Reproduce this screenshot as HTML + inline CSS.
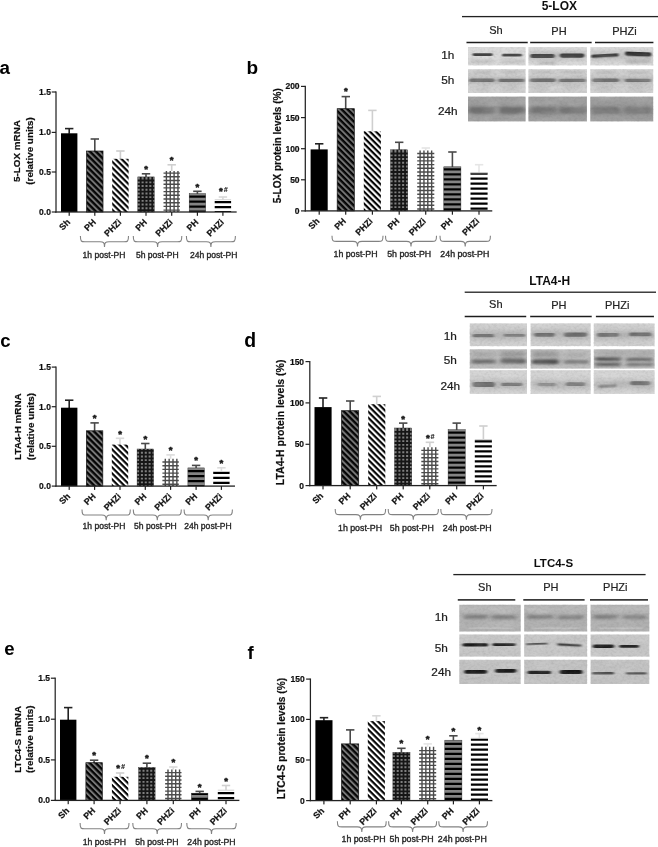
<!DOCTYPE html>
<html lang="en"><head><meta charset="utf-8"><title>Figure: 5-LOX, LTA4-H and LTC4-S expression after partial hepatectomy</title>
<style>
html,body{margin:0;padding:0;background:#ffffff;}
body{width:658px;height:847px;overflow:hidden;}
svg{display:block;font-family:'Liberation Sans', Arial, sans-serif;}
text[font-weight=bold]{stroke:#111;stroke-width:0.2px;stroke-linejoin:round;}
text.ns{stroke:none;}
text.st{stroke:#1a1a1a;stroke-width:0.55px;stroke-linejoin:round;}
</style></head>
<body>
<svg width="658" height="847" viewBox="0 0 658 847">
<rect width="658" height="847" fill="#ffffff"/>
<g filter="url(#soft)">

<defs>
 <pattern id="pDiagG" width="4.24" height="4.24" patternUnits="userSpaceOnUse" patternTransform="rotate(45)">
  <rect width="4.24" height="4.24" fill="#767676"/><rect width="4.24" height="2.3" fill="#060606"/>
 </pattern>
 <pattern id="pDiagW" width="4.24" height="4.24" patternUnits="userSpaceOnUse" patternTransform="rotate(45)">
  <rect width="4.24" height="4.24" fill="#ffffff"/><rect width="4.24" height="2.15" fill="#060606"/>
 </pattern>
 <pattern id="pGridG" width="3" height="3" patternUnits="userSpaceOnUse">
  <rect width="3" height="3" fill="#8a8a8a"/><rect width="3" height="1.5" fill="#111"/><rect width="1.5" height="3" fill="#111"/>
 </pattern>
 <pattern id="pGridW" width="3" height="3" patternUnits="userSpaceOnUse">
  <rect width="3" height="3" fill="#ffffff"/><rect width="3" height="1.1" fill="#3a3a3a"/><rect width="1.1" height="3" fill="#3a3a3a"/>
 </pattern>
 <pattern id="pHorG" width="5" height="5" patternUnits="userSpaceOnUse">
  <rect width="5" height="5" fill="#8a8a8a"/><rect width="5" height="2.6" fill="#0a0a0a"/>
 </pattern>
 <pattern id="pHorW" width="5" height="5" patternUnits="userSpaceOnUse">
  <rect width="5" height="5" fill="#ffffff"/><rect width="5" height="2.3" fill="#0a0a0a"/>
 </pattern>
 <filter id="b0" x="-20%" y="-100%" width="140%" height="300%"><feGaussianBlur stdDeviation="1.3 0.55"/></filter>
 <filter id="b1" x="-20%" y="-100%" width="140%" height="300%"><feGaussianBlur stdDeviation="1.4 0.75"/></filter>
 <filter id="b2" x="-20%" y="-100%" width="140%" height="300%"><feGaussianBlur stdDeviation="2 1.3"/></filter>
 <filter id="b3" x="-20%" y="-100%" width="140%" height="300%"><feGaussianBlur stdDeviation="2.5 2.2"/></filter>
 <filter id="noise" x="0" y="0" width="100%" height="100%" color-interpolation-filters="sRGB">
  <feTurbulence type="fractalNoise" baseFrequency="0.35 0.45" numOctaves="2" seed="7"/>
  <feColorMatrix type="matrix" values="0 0 0 0 0.3  0 0 0 0 0.3  0 0 0 0 0.3  1.4 0 0 0 -0.56"/>
 </filter>
 <filter id="noiseL" x="0" y="0" width="100%" height="100%" color-interpolation-filters="sRGB">
  <feTurbulence type="fractalNoise" baseFrequency="0.06 0.14" numOctaves="2" seed="11"/>
  <feColorMatrix type="matrix" values="0 0 0 0 1  0 0 0 0 1  0 0 0 0 1  1.5 0 0 0 -0.6"/>
 </filter>
 <filter id="soft" x="-5%" y="-5%" width="110%" height="110%"><feGaussianBlur stdDeviation="0.45"/></filter>
</defs>

<rect x="68.4" y="128.6" width="1.6" height="5.2" fill="#242424"/>
<rect x="65.0" y="127.8" width="8.4" height="1.6" fill="#242424"/>
<rect x="61.0" y="133.3" width="16.4" height="78.7" fill="#000"/>
<rect x="68.6" y="212.0" width="1.2" height="3.8" fill="#242424"/>
<text transform="translate(70.8,222.8) rotate(-45)" text-anchor="end" font-size="8.8" font-weight="bold" fill="#111">Sh</text>
<rect x="94.0" y="139.0" width="1.6" height="12.5" fill="#4a4a4a"/>
<rect x="90.6" y="138.2" width="8.4" height="1.6" fill="#4a4a4a"/>
<rect x="86.6" y="151.0" width="16.4" height="61.0" fill="url(#pDiagG)" stroke="#111" stroke-width="0.7"/>
<rect x="94.2" y="212.0" width="1.2" height="3.8" fill="#242424"/>
<text transform="translate(96.4,222.8) rotate(-45)" text-anchor="end" font-size="8.8" font-weight="bold" fill="#111">PH</text>
<rect x="119.6" y="151.0" width="1.6" height="8.3" fill="#cdcdcd"/>
<rect x="116.2" y="150.2" width="8.4" height="1.6" fill="#cdcdcd"/>
<rect x="112.2" y="158.8" width="16.4" height="53.2" fill="url(#pDiagW)"/>
<rect x="119.8" y="212.0" width="1.2" height="3.8" fill="#242424"/>
<text transform="translate(122.0,222.8) rotate(-45)" text-anchor="end" font-size="8.8" font-weight="bold" fill="#111">PHZi</text>
<rect x="145.2" y="173.8" width="1.6" height="3.6" fill="#4a4a4a"/>
<rect x="141.8" y="173.0" width="8.4" height="1.6" fill="#4a4a4a"/>
<rect x="137.8" y="176.9" width="16.4" height="35.1" fill="#808080"/><path d="M139.80,176.9h1.8v35.1h-1.8zM143.65,176.9h1.8v35.1h-1.8zM147.50,176.9h1.8v35.1h-1.8zM151.35,176.9h1.8v35.1h-1.8zM137.8,209.20h16.4v1.8h-16.4zM137.8,205.50h16.4v1.8h-16.4zM137.8,201.80h16.4v1.8h-16.4zM137.8,198.10h16.4v1.8h-16.4zM137.8,194.40h16.4v1.8h-16.4zM137.8,190.70h16.4v1.8h-16.4zM137.8,187.00h16.4v1.8h-16.4zM137.8,183.30h16.4v1.8h-16.4zM137.8,179.60h16.4v1.8h-16.4z" fill="#161616"/><rect x="137.8" y="176.9" width="16.4" height="35.1" fill="none" stroke="#2a2a2a" stroke-width="0.45"/>
<rect x="145.4" y="212.0" width="1.2" height="3.8" fill="#242424"/>
<text transform="translate(147.6,222.8) rotate(-45)" text-anchor="end" font-size="8.8" font-weight="bold" fill="#111">PH</text>
<rect x="170.9" y="164.8" width="1.6" height="6.7" fill="#cfcfcf"/>
<rect x="167.5" y="164.0" width="8.4" height="1.6" fill="#cfcfcf"/>
<rect x="163.5" y="171.0" width="16.4" height="41.0" fill="#ffffff"/><path d="M165.70,171.0h1.4v41.0h-1.4zM169.55,171.0h1.4v41.0h-1.4zM173.40,171.0h1.4v41.0h-1.4zM177.25,171.0h1.4v41.0h-1.4zM163.5,209.40h16.4v1.4h-16.4zM163.5,205.70h16.4v1.4h-16.4zM163.5,202.00h16.4v1.4h-16.4zM163.5,198.30h16.4v1.4h-16.4zM163.5,194.60h16.4v1.4h-16.4zM163.5,190.90h16.4v1.4h-16.4zM163.5,187.20h16.4v1.4h-16.4zM163.5,183.50h16.4v1.4h-16.4zM163.5,179.80h16.4v1.4h-16.4zM163.5,176.10h16.4v1.4h-16.4zM163.5,172.40h16.4v1.4h-16.4z" fill="#4c4c4c"/>
<rect x="171.1" y="212.0" width="1.2" height="3.8" fill="#242424"/>
<text transform="translate(173.3,222.8) rotate(-45)" text-anchor="end" font-size="8.8" font-weight="bold" fill="#111">PHZi</text>
<rect x="196.6" y="191.3" width="1.6" height="2.8" fill="#4a4a4a"/>
<rect x="193.2" y="190.5" width="8.4" height="1.6" fill="#4a4a4a"/>
<rect x="189.2" y="193.6" width="16.4" height="18.4" fill="#848484"/><path d="M189.2,210.48h16.4v1.52h-16.4zM189.2,205.48h16.4v2.15h-16.4zM189.2,200.48h16.4v2.15h-16.4zM189.2,195.48h16.4v2.15h-16.4z" fill="#060606"/><rect x="189.2" y="193.6" width="16.4" height="18.4" fill="none" stroke="#2a2a2a" stroke-width="0.45"/>
<rect x="196.8" y="212.0" width="1.2" height="3.8" fill="#242424"/>
<text transform="translate(199.0,222.8) rotate(-45)" text-anchor="end" font-size="8.8" font-weight="bold" fill="#111">PH</text>
<rect x="222.1" y="197.0" width="1.6" height="3.2" fill="#d8d8d8"/>
<rect x="218.7" y="196.2" width="8.4" height="1.6" fill="#d8d8d8"/>
<rect x="214.7" y="199.7" width="16.4" height="12.3" fill="#ffffff"/><path d="M214.7,211.07h16.4v0.93h-16.4zM214.7,206.07h16.4v2.25h-16.4zM214.7,201.07h16.4v2.25h-16.4z" fill="#060606"/><rect x="214.7" y="199.3" width="16.4" height="0.9" fill="#cfcfcf"/>
<rect x="222.3" y="212.0" width="1.2" height="3.8" fill="#242424"/>
<text transform="translate(224.5,222.8) rotate(-45)" text-anchor="end" font-size="8.8" font-weight="bold" fill="#111">PHZi</text>
<rect x="55.38" y="91.4" width="1.25" height="121.2" fill="#242424"/>
<rect x="55.38" y="211.35" width="181.3" height="1.3" fill="#242424"/>
<rect x="51.7" y="91.4" width="4.3" height="1.2" fill="#242424"/>
<text x="50.9" y="95.0" text-anchor="end" font-size="8.5" font-weight="bold" fill="#111">1.5</text>
<rect x="51.7" y="131.8" width="4.3" height="1.2" fill="#242424"/>
<text x="50.9" y="135.4" text-anchor="end" font-size="8.5" font-weight="bold" fill="#111">1.0</text>
<rect x="51.7" y="171.4" width="4.3" height="1.2" fill="#242424"/>
<text x="50.9" y="175.0" text-anchor="end" font-size="8.5" font-weight="bold" fill="#111">0.5</text>
<rect x="51.7" y="211.4" width="4.3" height="1.2" fill="#242424"/>
<text x="50.9" y="215.0" text-anchor="end" font-size="8.5" font-weight="bold" fill="#111">0.0</text>
<text transform="translate(20.4,151.0) rotate(-90)" text-anchor="middle" font-size="9.9" font-weight="bold" fill="#111">5-LOX mRNA</text>
<text transform="translate(33.0,151.0) rotate(-90)" text-anchor="middle" font-size="9.9" font-weight="bold" fill="#111">(relative units)</text>
<text x="146.0" y="172.0" text-anchor="middle" font-size="9.6" font-weight="bold" class="st" fill="#1a1a1a">*</text>
<text x="171.7" y="163.0" text-anchor="middle" font-size="9.6" font-weight="bold" class="st" fill="#1a1a1a">*</text>
<text x="197.4" y="189.7" text-anchor="middle" font-size="9.6" font-weight="bold" class="st" fill="#1a1a1a">*</text>
<text x="223.3" y="194.1" text-anchor="middle" font-size="9.6" font-weight="bold" class="st" fill="#1a1a1a">*<tspan font-size="7" font-style="italic" stroke-width="0.15" dx="1.0" dy="-2.0">#</tspan></text>
<path d="M80.4,236.1 C80.4,241.7 81.4,241.7 84.9,241.7 L100.0,241.7 C103.5,241.7 104.5,242.7 104.5,246.9 C104.5,242.7 105.5,241.7 109.0,241.7 L124.0,241.7 C127.5,241.7 128.5,241.7 128.5,236.1" fill="none" stroke="#828282" stroke-width="1.1"/>
<text x="104.0" y="257.9" text-anchor="middle" font-size="8.55" fill="#242424" stroke="#242424" stroke-width="0.34">1h post-PH</text>
<path d="M133.3,236.1 C133.3,241.7 134.3,241.7 137.8,241.7 L153.1,241.7 C156.6,241.7 157.6,242.7 157.6,246.9 C157.6,242.7 158.6,241.7 162.1,241.7 L177.3,241.7 C180.8,241.7 181.8,241.7 181.8,236.1" fill="none" stroke="#828282" stroke-width="1.1"/>
<text x="157.3" y="257.9" text-anchor="middle" font-size="8.55" fill="#242424" stroke="#242424" stroke-width="0.34">5h post-PH</text>
<path d="M186.4,236.1 C186.4,241.7 187.4,241.7 190.9,241.7 L206.4,241.7 C209.9,241.7 210.9,242.7 210.9,246.9 C210.9,242.7 211.9,241.7 215.4,241.7 L230.9,241.7 C234.4,241.7 235.4,241.7 235.4,236.1" fill="none" stroke="#828282" stroke-width="1.1"/>
<text x="213.7" y="257.9" text-anchor="middle" font-size="8.55" fill="#242424" stroke="#242424" stroke-width="0.34">24h post-PH</text>
<rect x="318.4" y="143.8" width="1.6" height="6.1" fill="#242424"/>
<rect x="315.0" y="143.0" width="8.4" height="1.6" fill="#242424"/>
<rect x="310.6" y="149.4" width="17.1" height="61.5" fill="#000"/>
<rect x="318.6" y="210.9" width="1.2" height="3.8" fill="#242424"/>
<text transform="translate(320.0,221.7) rotate(-45)" text-anchor="end" font-size="8.8" font-weight="bold" fill="#111">Sh</text>
<rect x="344.9" y="96.6" width="1.6" height="12.6" fill="#4a4a4a"/>
<rect x="341.6" y="95.8" width="8.4" height="1.6" fill="#4a4a4a"/>
<rect x="337.2" y="108.7" width="17.1" height="102.2" fill="url(#pDiagG)" stroke="#111" stroke-width="0.7"/>
<rect x="345.1" y="210.9" width="1.2" height="3.8" fill="#242424"/>
<text transform="translate(346.6,221.7) rotate(-45)" text-anchor="end" font-size="8.8" font-weight="bold" fill="#111">PH</text>
<rect x="371.6" y="110.4" width="1.6" height="21.4" fill="#cfcfcf"/>
<rect x="368.2" y="109.6" width="8.4" height="1.6" fill="#cfcfcf"/>
<rect x="363.8" y="131.3" width="17.1" height="79.6" fill="url(#pDiagW)"/>
<rect x="371.8" y="210.9" width="1.2" height="3.8" fill="#242424"/>
<text transform="translate(373.2,221.7) rotate(-45)" text-anchor="end" font-size="8.8" font-weight="bold" fill="#111">PHZi</text>
<rect x="398.4" y="142.3" width="1.6" height="8.0" fill="#4a4a4a"/>
<rect x="395.0" y="141.5" width="8.4" height="1.6" fill="#4a4a4a"/>
<rect x="390.6" y="149.8" width="17.1" height="61.1" fill="#808080"/><path d="M392.60,149.8h1.8v61.1h-1.8zM396.45,149.8h1.8v61.1h-1.8zM400.30,149.8h1.8v61.1h-1.8zM404.15,149.8h1.8v61.1h-1.8zM390.6,208.10h17.1v1.8h-17.1zM390.6,204.40h17.1v1.8h-17.1zM390.6,200.70h17.1v1.8h-17.1zM390.6,197.00h17.1v1.8h-17.1zM390.6,193.30h17.1v1.8h-17.1zM390.6,189.60h17.1v1.8h-17.1zM390.6,185.90h17.1v1.8h-17.1zM390.6,182.20h17.1v1.8h-17.1zM390.6,178.50h17.1v1.8h-17.1zM390.6,174.80h17.1v1.8h-17.1zM390.6,171.10h17.1v1.8h-17.1zM390.6,167.40h17.1v1.8h-17.1zM390.6,163.70h17.1v1.8h-17.1zM390.6,160.00h17.1v1.8h-17.1zM390.6,156.30h17.1v1.8h-17.1zM390.6,152.60h17.1v1.8h-17.1z" fill="#161616"/><rect x="390.6" y="149.8" width="17.1" height="61.1" fill="none" stroke="#2a2a2a" stroke-width="0.45"/>
<rect x="398.6" y="210.9" width="1.2" height="3.8" fill="#242424"/>
<text transform="translate(400.0,221.7) rotate(-45)" text-anchor="end" font-size="8.8" font-weight="bold" fill="#111">PH</text>
<rect x="424.9" y="148.0" width="1.6" height="2.9" fill="#e4e4e4"/>
<rect x="421.6" y="147.2" width="8.4" height="1.6" fill="#e4e4e4"/>
<rect x="417.2" y="150.4" width="17.1" height="60.5" fill="#ffffff"/><path d="M419.40,150.4h1.4v60.5h-1.4zM423.25,150.4h1.4v60.5h-1.4zM427.10,150.4h1.4v60.5h-1.4zM430.95,150.4h1.4v60.5h-1.4zM417.2,208.30h17.1v1.4h-17.1zM417.2,204.60h17.1v1.4h-17.1zM417.2,200.90h17.1v1.4h-17.1zM417.2,197.20h17.1v1.4h-17.1zM417.2,193.50h17.1v1.4h-17.1zM417.2,189.80h17.1v1.4h-17.1zM417.2,186.10h17.1v1.4h-17.1zM417.2,182.40h17.1v1.4h-17.1zM417.2,178.70h17.1v1.4h-17.1zM417.2,175.00h17.1v1.4h-17.1zM417.2,171.30h17.1v1.4h-17.1zM417.2,167.60h17.1v1.4h-17.1zM417.2,163.90h17.1v1.4h-17.1zM417.2,160.20h17.1v1.4h-17.1zM417.2,156.50h17.1v1.4h-17.1zM417.2,152.80h17.1v1.4h-17.1z" fill="#4c4c4c"/>
<rect x="425.1" y="210.9" width="1.2" height="3.8" fill="#242424"/>
<text transform="translate(426.6,221.7) rotate(-45)" text-anchor="end" font-size="8.8" font-weight="bold" fill="#111">PHZi</text>
<rect x="451.6" y="152.0" width="1.6" height="15.3" fill="#4a4a4a"/>
<rect x="448.2" y="151.2" width="8.4" height="1.6" fill="#4a4a4a"/>
<rect x="443.8" y="166.8" width="17.1" height="44.1" fill="#848484"/><path d="M443.8,208.33h17.1v2.15h-17.1zM443.8,203.33h17.1v2.15h-17.1zM443.8,198.33h17.1v2.15h-17.1zM443.8,193.33h17.1v2.15h-17.1zM443.8,188.33h17.1v2.15h-17.1zM443.8,183.33h17.1v2.15h-17.1zM443.8,178.33h17.1v2.15h-17.1zM443.8,173.33h17.1v2.15h-17.1zM443.8,168.33h17.1v2.15h-17.1z" fill="#060606"/><rect x="443.8" y="166.8" width="17.1" height="44.1" fill="none" stroke="#2a2a2a" stroke-width="0.45"/>
<rect x="451.8" y="210.9" width="1.2" height="3.8" fill="#242424"/>
<text transform="translate(453.2,221.7) rotate(-45)" text-anchor="end" font-size="8.8" font-weight="bold" fill="#111">PH</text>
<rect x="478.2" y="164.7" width="1.6" height="8.6" fill="#e6e6e6"/>
<rect x="474.9" y="163.9" width="8.4" height="1.6" fill="#e6e6e6"/>
<rect x="470.5" y="172.8" width="17.1" height="38.1" fill="#ffffff"/><path d="M470.5,207.47h17.1v2.25h-17.1zM470.5,202.47h17.1v2.25h-17.1zM470.5,197.47h17.1v2.25h-17.1zM470.5,192.47h17.1v2.25h-17.1zM470.5,187.47h17.1v2.25h-17.1zM470.5,182.47h17.1v2.25h-17.1zM470.5,177.47h17.1v2.25h-17.1zM470.5,172.80h17.1v1.92h-17.1z" fill="#060606"/><rect x="470.5" y="172.4" width="17.1" height="0.9" fill="#cfcfcf"/>
<rect x="478.4" y="210.9" width="1.2" height="3.8" fill="#242424"/>
<text transform="translate(479.9,221.7) rotate(-45)" text-anchor="end" font-size="8.8" font-weight="bold" fill="#111">PHZi</text>
<rect x="304.68" y="85.8" width="1.25" height="125.7" fill="#242424"/>
<rect x="304.68" y="210.25" width="187.6" height="1.3" fill="#242424"/>
<rect x="301.0" y="85.8" width="4.3" height="1.2" fill="#242424"/>
<text x="299.6" y="89.4" text-anchor="end" font-size="8.5" font-weight="bold" fill="#111">200</text>
<rect x="301.0" y="117.0" width="4.3" height="1.2" fill="#242424"/>
<text x="299.6" y="120.6" text-anchor="end" font-size="8.5" font-weight="bold" fill="#111">150</text>
<rect x="301.0" y="148.1" width="4.3" height="1.2" fill="#242424"/>
<text x="299.6" y="151.7" text-anchor="end" font-size="8.5" font-weight="bold" fill="#111">100</text>
<rect x="301.0" y="179.2" width="4.3" height="1.2" fill="#242424"/>
<text x="299.6" y="182.8" text-anchor="end" font-size="8.5" font-weight="bold" fill="#111">50</text>
<rect x="301.0" y="210.3" width="4.3" height="1.2" fill="#242424"/>
<text x="299.6" y="213.9" text-anchor="end" font-size="8.5" font-weight="bold" fill="#111">0</text>
<text transform="translate(280.6,145.8) rotate(-90)" text-anchor="middle" font-size="10.0" font-weight="bold" fill="#111">5-LOX protein levels (%)</text>
<text x="345.8" y="94.0" text-anchor="middle" font-size="9.6" font-weight="bold" class="st" fill="#1a1a1a">*</text>
<path d="M332.0,235.8 C332.0,241.4 333.0,241.4 336.5,241.4 L353.0,241.4 C356.5,241.4 357.5,242.4 357.5,246.6 C357.5,242.4 358.5,241.4 362.0,241.4 L378.5,241.4 C382.0,241.4 383.0,241.4 383.0,235.8" fill="none" stroke="#828282" stroke-width="1.1"/>
<text x="355.5" y="256.9" text-anchor="middle" font-size="8.8" fill="#242424" stroke="#242424" stroke-width="0.34">1h post-PH</text>
<path d="M385.5,235.8 C385.5,241.4 386.5,241.4 390.0,241.4 L406.5,241.4 C410.0,241.4 411.0,242.4 411.0,246.6 C411.0,242.4 412.0,241.4 415.5,241.4 L432.0,241.4 C435.5,241.4 436.5,241.4 436.5,235.8" fill="none" stroke="#828282" stroke-width="1.1"/>
<text x="409.2" y="256.9" text-anchor="middle" font-size="8.8" fill="#242424" stroke="#242424" stroke-width="0.34">5h post-PH</text>
<path d="M440.0,235.8 C440.0,241.4 441.0,241.4 444.5,241.4 L460.7,241.4 C464.2,241.4 465.2,242.4 465.2,246.6 C465.2,242.4 466.2,241.4 469.7,241.4 L485.9,241.4 C489.4,241.4 490.4,241.4 490.4,235.8" fill="none" stroke="#828282" stroke-width="1.1"/>
<text x="464.8" y="256.9" text-anchor="middle" font-size="8.8" fill="#242424" stroke="#242424" stroke-width="0.34">24h post-PH</text>
<rect x="68.4" y="400.2" width="1.6" height="8.0" fill="#242424"/>
<rect x="65.0" y="399.4" width="8.4" height="1.6" fill="#242424"/>
<rect x="61.0" y="407.7" width="16.4" height="78.4" fill="#000"/>
<rect x="68.6" y="486.1" width="1.2" height="3.8" fill="#242424"/>
<text transform="translate(70.8,496.9) rotate(-45)" text-anchor="end" font-size="8.8" font-weight="bold" fill="#111">Sh</text>
<rect x="93.8" y="422.9" width="1.6" height="8.4" fill="#4a4a4a"/>
<rect x="90.4" y="422.1" width="8.4" height="1.6" fill="#4a4a4a"/>
<rect x="86.4" y="430.8" width="16.4" height="55.3" fill="url(#pDiagG)" stroke="#111" stroke-width="0.7"/>
<rect x="94.0" y="486.1" width="1.2" height="3.8" fill="#242424"/>
<text transform="translate(96.2,496.9) rotate(-45)" text-anchor="end" font-size="8.8" font-weight="bold" fill="#111">PH</text>
<rect x="119.2" y="438.3" width="1.6" height="6.8" fill="#dadada"/>
<rect x="115.8" y="437.5" width="8.4" height="1.6" fill="#dadada"/>
<rect x="111.8" y="444.6" width="16.4" height="41.5" fill="url(#pDiagW)"/>
<rect x="119.4" y="486.1" width="1.2" height="3.8" fill="#242424"/>
<text transform="translate(121.6,496.9) rotate(-45)" text-anchor="end" font-size="8.8" font-weight="bold" fill="#111">PHZi</text>
<rect x="144.5" y="443.5" width="1.6" height="6.0" fill="#4a4a4a"/>
<rect x="141.1" y="442.7" width="8.4" height="1.6" fill="#4a4a4a"/>
<rect x="137.1" y="449.0" width="16.4" height="37.1" fill="#808080"/><path d="M139.10,449.0h1.8v37.1h-1.8zM142.95,449.0h1.8v37.1h-1.8zM146.80,449.0h1.8v37.1h-1.8zM150.65,449.0h1.8v37.1h-1.8zM137.1,483.30h16.4v1.8h-16.4zM137.1,479.60h16.4v1.8h-16.4zM137.1,475.90h16.4v1.8h-16.4zM137.1,472.20h16.4v1.8h-16.4zM137.1,468.50h16.4v1.8h-16.4zM137.1,464.80h16.4v1.8h-16.4zM137.1,461.10h16.4v1.8h-16.4zM137.1,457.40h16.4v1.8h-16.4zM137.1,453.70h16.4v1.8h-16.4zM137.1,450.00h16.4v1.8h-16.4z" fill="#161616"/><rect x="137.1" y="449.0" width="16.4" height="37.1" fill="none" stroke="#2a2a2a" stroke-width="0.45"/>
<rect x="144.7" y="486.1" width="1.2" height="3.8" fill="#242424"/>
<text transform="translate(146.9,496.9) rotate(-45)" text-anchor="end" font-size="8.8" font-weight="bold" fill="#111">PH</text>
<rect x="169.8" y="454.9" width="1.6" height="4.4" fill="#dcdcdc"/>
<rect x="166.4" y="454.1" width="8.4" height="1.6" fill="#dcdcdc"/>
<rect x="162.4" y="458.8" width="16.4" height="27.3" fill="#ffffff"/><path d="M164.60,458.8h1.4v27.3h-1.4zM168.45,458.8h1.4v27.3h-1.4zM172.30,458.8h1.4v27.3h-1.4zM176.15,458.8h1.4v27.3h-1.4zM162.4,483.50h16.4v1.4h-16.4zM162.4,479.80h16.4v1.4h-16.4zM162.4,476.10h16.4v1.4h-16.4zM162.4,472.40h16.4v1.4h-16.4zM162.4,468.70h16.4v1.4h-16.4zM162.4,465.00h16.4v1.4h-16.4zM162.4,461.30h16.4v1.4h-16.4z" fill="#4c4c4c"/>
<rect x="170.0" y="486.1" width="1.2" height="3.8" fill="#242424"/>
<text transform="translate(172.2,496.9) rotate(-45)" text-anchor="end" font-size="8.8" font-weight="bold" fill="#111">PHZi</text>
<rect x="195.3" y="465.4" width="1.6" height="3.0" fill="#4a4a4a"/>
<rect x="191.9" y="464.6" width="8.4" height="1.6" fill="#4a4a4a"/>
<rect x="187.9" y="467.9" width="16.4" height="18.2" fill="#848484"/><path d="M187.9,485.03h16.4v1.07h-16.4zM187.9,480.03h16.4v2.15h-16.4zM187.9,475.03h16.4v2.15h-16.4zM187.9,470.03h16.4v2.15h-16.4z" fill="#060606"/><rect x="187.9" y="467.9" width="16.4" height="18.2" fill="none" stroke="#2a2a2a" stroke-width="0.45"/>
<rect x="195.5" y="486.1" width="1.2" height="3.8" fill="#242424"/>
<text transform="translate(197.7,496.9) rotate(-45)" text-anchor="end" font-size="8.8" font-weight="bold" fill="#111">PH</text>
<rect x="220.6" y="467.8" width="1.6" height="4.2" fill="#dcdcdc"/>
<rect x="217.2" y="467.0" width="8.4" height="1.6" fill="#dcdcdc"/>
<rect x="213.2" y="471.5" width="16.4" height="14.6" fill="#ffffff"/><path d="M213.2,481.78h16.4v2.25h-16.4zM213.2,476.78h16.4v2.25h-16.4zM213.2,471.78h16.4v2.25h-16.4z" fill="#060606"/><rect x="213.2" y="471.1" width="16.4" height="0.9" fill="#cfcfcf"/>
<rect x="220.8" y="486.1" width="1.2" height="3.8" fill="#242424"/>
<text transform="translate(223.0,496.9) rotate(-45)" text-anchor="end" font-size="8.8" font-weight="bold" fill="#111">PHZi</text>
<rect x="55.38" y="366.5" width="1.25" height="120.2" fill="#242424"/>
<rect x="55.38" y="485.45" width="179.6" height="1.3" fill="#242424"/>
<rect x="51.7" y="366.5" width="4.3" height="1.2" fill="#242424"/>
<text x="50.9" y="370.1" text-anchor="end" font-size="8.5" font-weight="bold" fill="#111">1.5</text>
<rect x="51.7" y="406.1" width="4.3" height="1.2" fill="#242424"/>
<text x="50.9" y="409.7" text-anchor="end" font-size="8.5" font-weight="bold" fill="#111">1.0</text>
<rect x="51.7" y="445.7" width="4.3" height="1.2" fill="#242424"/>
<text x="50.9" y="449.3" text-anchor="end" font-size="8.5" font-weight="bold" fill="#111">0.5</text>
<rect x="51.7" y="485.5" width="4.3" height="1.2" fill="#242424"/>
<text x="50.9" y="489.1" text-anchor="end" font-size="8.5" font-weight="bold" fill="#111">0.0</text>
<text transform="translate(20.9,426.6) rotate(-90)" text-anchor="middle" font-size="9.9" font-weight="bold" fill="#111">LTA4-H mRNA</text>
<text transform="translate(33.5,426.6) rotate(-90)" text-anchor="middle" font-size="9.9" font-weight="bold" fill="#111">(relative units)</text>
<text x="94.6" y="421.0" text-anchor="middle" font-size="9.6" font-weight="bold" class="st" fill="#1a1a1a">*</text>
<text x="120.0" y="436.7" text-anchor="middle" font-size="9.6" font-weight="bold" class="st" fill="#1a1a1a">*</text>
<text x="145.3" y="442.3" text-anchor="middle" font-size="9.6" font-weight="bold" class="st" fill="#1a1a1a">*</text>
<text x="170.6" y="453.0" text-anchor="middle" font-size="9.6" font-weight="bold" class="st" fill="#1a1a1a">*</text>
<text x="196.1" y="463.2" text-anchor="middle" font-size="9.6" font-weight="bold" class="st" fill="#1a1a1a">*</text>
<text x="221.4" y="466.2" text-anchor="middle" font-size="9.6" font-weight="bold" class="st" fill="#1a1a1a">*</text>
<path d="M82.0,509.4 C82.0,515.0 83.0,515.0 86.5,515.0 L101.7,515.0 C105.2,515.0 106.2,516.0 106.2,520.2 C106.2,516.0 107.2,515.0 110.7,515.0 L125.8,515.0 C129.3,515.0 130.3,515.0 130.3,509.4" fill="none" stroke="#828282" stroke-width="1.1"/>
<text x="104.0" y="528.5" text-anchor="middle" font-size="8.55" fill="#242424" stroke="#242424" stroke-width="0.34">1h post-PH</text>
<path d="M133.3,509.4 C133.3,515.0 134.3,515.0 137.8,515.0 L152.8,515.0 C156.3,515.0 157.3,516.0 157.3,520.2 C157.3,516.0 158.3,515.0 161.8,515.0 L176.8,515.0 C180.3,515.0 181.3,515.0 181.3,509.4" fill="none" stroke="#828282" stroke-width="1.1"/>
<text x="155.4" y="528.5" text-anchor="middle" font-size="8.55" fill="#242424" stroke="#242424" stroke-width="0.34">5h post-PH</text>
<path d="M184.1,509.4 C184.1,515.0 185.1,515.0 188.6,515.0 L203.8,515.0 C207.2,515.0 208.2,516.0 208.2,520.2 C208.2,516.0 209.2,515.0 212.8,515.0 L227.9,515.0 C231.4,515.0 232.4,515.0 232.4,509.4" fill="none" stroke="#828282" stroke-width="1.1"/>
<text x="208.0" y="528.5" text-anchor="middle" font-size="8.55" fill="#242424" stroke="#242424" stroke-width="0.34">24h post-PH</text>
<rect x="322.2" y="398.0" width="1.6" height="9.6" fill="#242424"/>
<rect x="318.9" y="397.2" width="8.4" height="1.6" fill="#242424"/>
<rect x="314.5" y="407.1" width="17.1" height="78.5" fill="#000"/>
<rect x="322.4" y="485.6" width="1.2" height="3.8" fill="#242424"/>
<text transform="translate(323.9,496.4) rotate(-45)" text-anchor="end" font-size="8.8" font-weight="bold" fill="#111">Sh</text>
<rect x="349.4" y="401.0" width="1.6" height="10.2" fill="#4a4a4a"/>
<rect x="346.0" y="400.2" width="8.4" height="1.6" fill="#4a4a4a"/>
<rect x="341.6" y="410.7" width="17.1" height="74.9" fill="url(#pDiagG)" stroke="#111" stroke-width="0.7"/>
<rect x="349.6" y="485.6" width="1.2" height="3.8" fill="#242424"/>
<text transform="translate(351.0,496.4) rotate(-45)" text-anchor="end" font-size="8.8" font-weight="bold" fill="#111">PH</text>
<rect x="375.9" y="396.4" width="1.6" height="8.3" fill="#d0d0d0"/>
<rect x="372.6" y="395.6" width="8.4" height="1.6" fill="#d0d0d0"/>
<rect x="368.2" y="404.2" width="17.1" height="81.4" fill="url(#pDiagW)"/>
<rect x="376.1" y="485.6" width="1.2" height="3.8" fill="#242424"/>
<text transform="translate(377.6,496.4) rotate(-45)" text-anchor="end" font-size="8.8" font-weight="bold" fill="#111">PHZi</text>
<rect x="402.4" y="423.1" width="1.6" height="5.4" fill="#4a4a4a"/>
<rect x="399.0" y="422.3" width="8.4" height="1.6" fill="#4a4a4a"/>
<rect x="394.6" y="428.0" width="17.1" height="57.6" fill="#808080"/><path d="M396.60,428.0h1.8v57.6h-1.8zM400.45,428.0h1.8v57.6h-1.8zM404.30,428.0h1.8v57.6h-1.8zM408.15,428.0h1.8v57.6h-1.8zM394.6,482.80h17.1v1.8h-17.1zM394.6,479.10h17.1v1.8h-17.1zM394.6,475.40h17.1v1.8h-17.1zM394.6,471.70h17.1v1.8h-17.1zM394.6,468.00h17.1v1.8h-17.1zM394.6,464.30h17.1v1.8h-17.1zM394.6,460.60h17.1v1.8h-17.1zM394.6,456.90h17.1v1.8h-17.1zM394.6,453.20h17.1v1.8h-17.1zM394.6,449.50h17.1v1.8h-17.1zM394.6,445.80h17.1v1.8h-17.1zM394.6,442.10h17.1v1.8h-17.1zM394.6,438.40h17.1v1.8h-17.1zM394.6,434.70h17.1v1.8h-17.1zM394.6,431.00h17.1v1.8h-17.1z" fill="#161616"/><rect x="394.6" y="428.0" width="17.1" height="57.6" fill="none" stroke="#2a2a2a" stroke-width="0.45"/>
<rect x="402.6" y="485.6" width="1.2" height="3.8" fill="#242424"/>
<text transform="translate(404.0,496.4) rotate(-45)" text-anchor="end" font-size="8.8" font-weight="bold" fill="#111">PH</text>
<rect x="429.1" y="442.3" width="1.6" height="5.4" fill="#d0d0d0"/>
<rect x="425.7" y="441.5" width="8.4" height="1.6" fill="#d0d0d0"/>
<rect x="421.3" y="447.2" width="17.1" height="38.4" fill="#ffffff"/><path d="M423.50,447.2h1.4v38.4h-1.4zM427.35,447.2h1.4v38.4h-1.4zM431.20,447.2h1.4v38.4h-1.4zM435.05,447.2h1.4v38.4h-1.4zM421.3,483.00h17.1v1.4h-17.1zM421.3,479.30h17.1v1.4h-17.1zM421.3,475.60h17.1v1.4h-17.1zM421.3,471.90h17.1v1.4h-17.1zM421.3,468.20h17.1v1.4h-17.1zM421.3,464.50h17.1v1.4h-17.1zM421.3,460.80h17.1v1.4h-17.1zM421.3,457.10h17.1v1.4h-17.1zM421.3,453.40h17.1v1.4h-17.1zM421.3,449.70h17.1v1.4h-17.1z" fill="#4c4c4c"/>
<rect x="429.2" y="485.6" width="1.2" height="3.8" fill="#242424"/>
<text transform="translate(430.7,496.4) rotate(-45)" text-anchor="end" font-size="8.8" font-weight="bold" fill="#111">PHZi</text>
<rect x="455.9" y="423.1" width="1.6" height="7.1" fill="#4a4a4a"/>
<rect x="452.5" y="422.3" width="8.4" height="1.6" fill="#4a4a4a"/>
<rect x="448.1" y="429.7" width="17.1" height="55.9" fill="#848484"/><path d="M448.1,481.53h17.1v2.15h-17.1zM448.1,476.53h17.1v2.15h-17.1zM448.1,471.53h17.1v2.15h-17.1zM448.1,466.53h17.1v2.15h-17.1zM448.1,461.53h17.1v2.15h-17.1zM448.1,456.53h17.1v2.15h-17.1zM448.1,451.53h17.1v2.15h-17.1zM448.1,446.53h17.1v2.15h-17.1zM448.1,441.53h17.1v2.15h-17.1zM448.1,436.53h17.1v2.15h-17.1zM448.1,431.53h17.1v2.15h-17.1z" fill="#060606"/><rect x="448.1" y="429.7" width="17.1" height="55.9" fill="none" stroke="#2a2a2a" stroke-width="0.45"/>
<rect x="456.1" y="485.6" width="1.2" height="3.8" fill="#242424"/>
<text transform="translate(457.5,496.4) rotate(-45)" text-anchor="end" font-size="8.8" font-weight="bold" fill="#111">PH</text>
<rect x="482.6" y="426.0" width="1.6" height="13.9" fill="#cfcfcf"/>
<rect x="479.2" y="425.2" width="8.4" height="1.6" fill="#cfcfcf"/>
<rect x="474.8" y="439.4" width="17.1" height="46.2" fill="#ffffff"/><path d="M474.8,480.18h17.1v2.25h-17.1zM474.8,475.18h17.1v2.25h-17.1zM474.8,470.18h17.1v2.25h-17.1zM474.8,465.18h17.1v2.25h-17.1zM474.8,460.18h17.1v2.25h-17.1zM474.8,455.18h17.1v2.25h-17.1zM474.8,450.18h17.1v2.25h-17.1zM474.8,445.18h17.1v2.25h-17.1zM474.8,440.18h17.1v2.25h-17.1z" fill="#060606"/><rect x="474.8" y="439.0" width="17.1" height="0.9" fill="#cfcfcf"/>
<rect x="482.8" y="485.6" width="1.2" height="3.8" fill="#242424"/>
<text transform="translate(484.2,496.4) rotate(-45)" text-anchor="end" font-size="8.8" font-weight="bold" fill="#111">PHZi</text>
<rect x="309.18" y="361.0" width="1.25" height="125.2" fill="#242424"/>
<rect x="309.18" y="484.95" width="187.5" height="1.3" fill="#242424"/>
<rect x="305.5" y="361.0" width="4.3" height="1.2" fill="#242424"/>
<text x="304.1" y="364.6" text-anchor="end" font-size="8.5" font-weight="bold" fill="#111">150</text>
<rect x="305.5" y="402.3" width="4.3" height="1.2" fill="#242424"/>
<text x="304.1" y="405.9" text-anchor="end" font-size="8.5" font-weight="bold" fill="#111">100</text>
<rect x="305.5" y="443.7" width="4.3" height="1.2" fill="#242424"/>
<text x="304.1" y="447.3" text-anchor="end" font-size="8.5" font-weight="bold" fill="#111">50</text>
<rect x="305.5" y="485.0" width="4.3" height="1.2" fill="#242424"/>
<text x="304.1" y="488.6" text-anchor="end" font-size="8.5" font-weight="bold" fill="#111">0</text>
<text transform="translate(284.1,422.4) rotate(-90)" text-anchor="middle" font-size="10.5" font-weight="bold" fill="#111">LTA4-H protein levels (%)</text>
<text x="403.2" y="422.0" text-anchor="middle" font-size="9.6" font-weight="bold" class="st" fill="#1a1a1a">*</text>
<text x="430.2" y="441.0" text-anchor="middle" font-size="9.6" font-weight="bold" class="st" fill="#1a1a1a">*<tspan font-size="7" font-style="italic" stroke-width="0.15" dx="1.0" dy="-2.0">#</tspan></text>
<path d="M335.2,509.0 C335.2,514.6 336.2,514.6 339.7,514.6 L355.9,514.6 C359.4,514.6 360.4,515.6 360.4,519.8 C360.4,515.6 361.4,514.6 364.9,514.6 L381.1,514.6 C384.6,514.6 385.6,514.6 385.6,509.0" fill="none" stroke="#828282" stroke-width="1.1"/>
<text x="360.0" y="531.0" text-anchor="middle" font-size="8.8" fill="#242424" stroke="#242424" stroke-width="0.34">1h post-PH</text>
<path d="M388.2,509.0 C388.2,514.6 389.2,514.6 392.7,514.6 L408.8,514.6 C412.3,514.6 413.3,515.6 413.3,519.8 C413.3,515.6 414.3,514.6 417.8,514.6 L433.9,514.6 C437.4,514.6 438.4,514.6 438.4,509.0" fill="none" stroke="#828282" stroke-width="1.1"/>
<text x="411.8" y="531.0" text-anchor="middle" font-size="8.8" fill="#242424" stroke="#242424" stroke-width="0.34">5h post-PH</text>
<path d="M440.8,509.0 C440.8,514.6 441.8,514.6 445.3,514.6 L461.9,514.6 C465.4,514.6 466.4,515.6 466.4,519.8 C466.4,515.6 467.4,514.6 470.9,514.6 L487.5,514.6 C491.0,514.6 492.0,514.6 492.0,509.0" fill="none" stroke="#828282" stroke-width="1.1"/>
<text x="467.2" y="531.0" text-anchor="middle" font-size="8.8" fill="#242424" stroke="#242424" stroke-width="0.34">24h post-PH</text>
<rect x="67.4" y="707.6" width="1.6" height="12.6" fill="#242424"/>
<rect x="64.0" y="706.8" width="8.4" height="1.6" fill="#242424"/>
<rect x="60.0" y="719.7" width="16.4" height="80.7" fill="#000"/>
<rect x="67.6" y="800.4" width="1.2" height="3.8" fill="#242424"/>
<text transform="translate(69.8,811.2) rotate(-45)" text-anchor="end" font-size="8.8" font-weight="bold" fill="#111">Sh</text>
<rect x="93.3" y="760.2" width="1.6" height="3.0" fill="#4a4a4a"/>
<rect x="89.9" y="759.4" width="8.4" height="1.6" fill="#4a4a4a"/>
<rect x="85.9" y="762.7" width="16.4" height="37.7" fill="url(#pDiagG)" stroke="#111" stroke-width="0.7"/>
<rect x="93.5" y="800.4" width="1.2" height="3.8" fill="#242424"/>
<text transform="translate(95.7,811.2) rotate(-45)" text-anchor="end" font-size="8.8" font-weight="bold" fill="#111">PH</text>
<rect x="119.3" y="773.0" width="1.6" height="4.3" fill="#cfcfcf"/>
<rect x="115.9" y="772.2" width="8.4" height="1.6" fill="#cfcfcf"/>
<rect x="111.9" y="776.8" width="16.4" height="23.6" fill="url(#pDiagW)"/>
<rect x="119.5" y="800.4" width="1.2" height="3.8" fill="#242424"/>
<text transform="translate(121.7,811.2) rotate(-45)" text-anchor="end" font-size="8.8" font-weight="bold" fill="#111">PHZi</text>
<rect x="146.1" y="763.2" width="1.6" height="4.9" fill="#4a4a4a"/>
<rect x="142.7" y="762.4" width="8.4" height="1.6" fill="#4a4a4a"/>
<rect x="138.7" y="767.6" width="16.4" height="32.8" fill="#808080"/><path d="M140.70,767.6h1.8v32.8h-1.8zM144.55,767.6h1.8v32.8h-1.8zM148.40,767.6h1.8v32.8h-1.8zM152.25,767.6h1.8v32.8h-1.8zM138.7,797.60h16.4v1.8h-16.4zM138.7,793.90h16.4v1.8h-16.4zM138.7,790.20h16.4v1.8h-16.4zM138.7,786.50h16.4v1.8h-16.4zM138.7,782.80h16.4v1.8h-16.4zM138.7,779.10h16.4v1.8h-16.4zM138.7,775.40h16.4v1.8h-16.4zM138.7,771.70h16.4v1.8h-16.4zM138.7,768.00h16.4v1.8h-16.4z" fill="#161616"/><rect x="138.7" y="767.6" width="16.4" height="32.8" fill="none" stroke="#2a2a2a" stroke-width="0.45"/>
<rect x="146.3" y="800.4" width="1.2" height="3.8" fill="#242424"/>
<text transform="translate(148.5,811.2) rotate(-45)" text-anchor="end" font-size="8.8" font-weight="bold" fill="#111">PH</text>
<rect x="172.5" y="767.0" width="1.6" height="3.1" fill="#dadada"/>
<rect x="169.1" y="766.2" width="8.4" height="1.6" fill="#dadada"/>
<rect x="165.1" y="769.6" width="16.4" height="30.8" fill="#ffffff"/><path d="M167.30,769.6h1.4v30.8h-1.4zM171.15,769.6h1.4v30.8h-1.4zM175.00,769.6h1.4v30.8h-1.4zM178.85,769.6h1.4v30.8h-1.4zM165.1,797.80h16.4v1.4h-16.4zM165.1,794.10h16.4v1.4h-16.4zM165.1,790.40h16.4v1.4h-16.4zM165.1,786.70h16.4v1.4h-16.4zM165.1,783.00h16.4v1.4h-16.4zM165.1,779.30h16.4v1.4h-16.4zM165.1,775.60h16.4v1.4h-16.4zM165.1,771.90h16.4v1.4h-16.4z" fill="#4c4c4c"/>
<rect x="172.7" y="800.4" width="1.2" height="3.8" fill="#242424"/>
<text transform="translate(174.9,811.2) rotate(-45)" text-anchor="end" font-size="8.8" font-weight="bold" fill="#111">PHZi</text>
<rect x="198.9" y="791.4" width="1.6" height="2.3" fill="#4a4a4a"/>
<rect x="195.5" y="790.6" width="8.4" height="1.6" fill="#4a4a4a"/>
<rect x="191.5" y="793.2" width="16.4" height="7.2" fill="#848484"/><path d="M191.5,797.82h16.4v2.15h-16.4zM191.5,793.20h16.4v1.77h-16.4z" fill="#060606"/><rect x="191.5" y="793.2" width="16.4" height="7.2" fill="none" stroke="#2a2a2a" stroke-width="0.45"/>
<rect x="199.1" y="800.4" width="1.2" height="3.8" fill="#242424"/>
<text transform="translate(201.3,811.2) rotate(-45)" text-anchor="end" font-size="8.8" font-weight="bold" fill="#111">PH</text>
<rect x="225.2" y="785.5" width="1.6" height="5.1" fill="#d0d0d0"/>
<rect x="221.8" y="784.7" width="8.4" height="1.6" fill="#d0d0d0"/>
<rect x="217.8" y="790.1" width="16.4" height="10.3" fill="#ffffff"/><path d="M217.8,796.98h16.4v2.25h-16.4zM217.8,791.98h16.4v2.25h-16.4z" fill="#060606"/><rect x="217.8" y="789.7" width="16.4" height="0.9" fill="#cfcfcf"/>
<rect x="225.4" y="800.4" width="1.2" height="3.8" fill="#242424"/>
<text transform="translate(227.6,811.2) rotate(-45)" text-anchor="end" font-size="8.8" font-weight="bold" fill="#111">PHZi</text>
<rect x="54.58" y="677.6" width="1.25" height="123.4" fill="#242424"/>
<rect x="54.58" y="799.75" width="184.8" height="1.3" fill="#242424"/>
<rect x="50.9" y="677.6" width="4.3" height="1.2" fill="#242424"/>
<text x="50.1" y="681.2" text-anchor="end" font-size="8.5" font-weight="bold" fill="#111">1.5</text>
<rect x="50.9" y="718.6" width="4.3" height="1.2" fill="#242424"/>
<text x="50.1" y="722.2" text-anchor="end" font-size="8.5" font-weight="bold" fill="#111">1.0</text>
<rect x="50.9" y="759.3" width="4.3" height="1.2" fill="#242424"/>
<text x="50.1" y="762.9" text-anchor="end" font-size="8.5" font-weight="bold" fill="#111">0.5</text>
<rect x="50.9" y="799.8" width="4.3" height="1.2" fill="#242424"/>
<text x="50.1" y="803.4" text-anchor="end" font-size="8.5" font-weight="bold" fill="#111">0.0</text>
<text transform="translate(20.8,739.3) rotate(-90)" text-anchor="middle" font-size="9.9" font-weight="bold" fill="#111">LTC4-S mRNA</text>
<text transform="translate(33.1,739.3) rotate(-90)" text-anchor="middle" font-size="9.9" font-weight="bold" fill="#111">(relative units)</text>
<text x="94.1" y="758.3" text-anchor="middle" font-size="9.6" font-weight="bold" class="st" fill="#1a1a1a">*</text>
<text x="120.5" y="770.6" text-anchor="middle" font-size="9.6" font-weight="bold" class="st" fill="#1a1a1a">*<tspan font-size="7" font-style="italic" stroke-width="0.15" dx="1.0" dy="-2.0">#</tspan></text>
<text x="146.9" y="761.3" text-anchor="middle" font-size="9.6" font-weight="bold" class="st" fill="#1a1a1a">*</text>
<text x="173.3" y="765.4" text-anchor="middle" font-size="9.6" font-weight="bold" class="st" fill="#1a1a1a">*</text>
<text x="199.7" y="789.5" text-anchor="middle" font-size="9.6" font-weight="bold" class="st" fill="#1a1a1a">*</text>
<text x="226.0" y="784.4" text-anchor="middle" font-size="9.6" font-weight="bold" class="st" fill="#1a1a1a">*</text>
<path d="M80.1,823.1 C80.1,828.7 81.1,828.7 84.6,828.7 L100.0,828.7 C103.5,828.7 104.5,829.7 104.5,833.9 C104.5,829.7 105.5,828.7 109.0,828.7 L124.5,828.7 C128.0,828.7 129.0,828.7 129.0,823.1" fill="none" stroke="#828282" stroke-width="1.1"/>
<text x="104.4" y="844.5" text-anchor="middle" font-size="8.7" fill="#242424" stroke="#242424" stroke-width="0.34">1h post-PH</text>
<path d="M132.8,823.1 C132.8,828.7 133.8,828.7 137.3,828.7 L152.7,828.7 C156.2,828.7 157.2,829.7 157.2,833.9 C157.2,829.7 158.2,828.7 161.7,828.7 L177.0,828.7 C180.5,828.7 181.5,828.7 181.5,823.1" fill="none" stroke="#828282" stroke-width="1.1"/>
<text x="156.9" y="844.5" text-anchor="middle" font-size="8.7" fill="#242424" stroke="#242424" stroke-width="0.34">5h post-PH</text>
<path d="M186.8,823.1 C186.8,828.7 187.8,828.7 191.3,828.7 L207.0,828.7 C210.5,828.7 211.5,829.7 211.5,833.9 C211.5,829.7 212.5,828.7 216.0,828.7 L231.7,828.7 C235.2,828.7 236.2,828.7 236.2,823.1" fill="none" stroke="#828282" stroke-width="1.1"/>
<text x="211.5" y="844.5" text-anchor="middle" font-size="8.7" fill="#242424" stroke="#242424" stroke-width="0.34">24h post-PH</text>
<rect x="323.1" y="717.7" width="1.6" height="3.0" fill="#242424"/>
<rect x="319.8" y="716.9" width="8.4" height="1.6" fill="#242424"/>
<rect x="315.4" y="720.2" width="17.1" height="80.4" fill="#000"/>
<rect x="323.3" y="800.6" width="1.2" height="3.8" fill="#242424"/>
<text transform="translate(324.8,811.4) rotate(-45)" text-anchor="end" font-size="8.8" font-weight="bold" fill="#111">Sh</text>
<rect x="349.4" y="729.9" width="1.6" height="14.5" fill="#4a4a4a"/>
<rect x="346.0" y="729.1" width="8.4" height="1.6" fill="#4a4a4a"/>
<rect x="341.6" y="743.9" width="17.1" height="56.7" fill="url(#pDiagG)" stroke="#111" stroke-width="0.7"/>
<rect x="349.6" y="800.6" width="1.2" height="3.8" fill="#242424"/>
<text transform="translate(351.0,811.4) rotate(-45)" text-anchor="end" font-size="8.8" font-weight="bold" fill="#111">PH</text>
<rect x="375.6" y="715.8" width="1.6" height="5.8" fill="#d8d8d8"/>
<rect x="372.2" y="715.0" width="8.4" height="1.6" fill="#d8d8d8"/>
<rect x="367.8" y="721.1" width="17.1" height="79.5" fill="url(#pDiagW)"/>
<rect x="375.8" y="800.6" width="1.2" height="3.8" fill="#242424"/>
<text transform="translate(377.2,811.4) rotate(-45)" text-anchor="end" font-size="8.8" font-weight="bold" fill="#111">PHZi</text>
<rect x="400.6" y="748.3" width="1.6" height="4.6" fill="#4a4a4a"/>
<rect x="397.2" y="747.5" width="8.4" height="1.6" fill="#4a4a4a"/>
<rect x="392.9" y="752.4" width="17.1" height="48.2" fill="#808080"/><path d="M394.90,752.4h1.8v48.2h-1.8zM398.75,752.4h1.8v48.2h-1.8zM402.60,752.4h1.8v48.2h-1.8zM406.45,752.4h1.8v48.2h-1.8zM392.9,797.80h17.1v1.8h-17.1zM392.9,794.10h17.1v1.8h-17.1zM392.9,790.40h17.1v1.8h-17.1zM392.9,786.70h17.1v1.8h-17.1zM392.9,783.00h17.1v1.8h-17.1zM392.9,779.30h17.1v1.8h-17.1zM392.9,775.60h17.1v1.8h-17.1zM392.9,771.90h17.1v1.8h-17.1zM392.9,768.20h17.1v1.8h-17.1zM392.9,764.50h17.1v1.8h-17.1zM392.9,760.80h17.1v1.8h-17.1zM392.9,757.10h17.1v1.8h-17.1zM392.9,753.40h17.1v1.8h-17.1z" fill="#161616"/><rect x="392.9" y="752.4" width="17.1" height="48.2" fill="none" stroke="#2a2a2a" stroke-width="0.45"/>
<rect x="400.8" y="800.6" width="1.2" height="3.8" fill="#242424"/>
<text transform="translate(402.2,811.4) rotate(-45)" text-anchor="end" font-size="8.8" font-weight="bold" fill="#111">PH</text>
<rect x="426.9" y="743.9" width="1.6" height="3.4" fill="#e4e4e4"/>
<rect x="423.5" y="743.1" width="8.4" height="1.6" fill="#e4e4e4"/>
<rect x="419.1" y="746.8" width="17.1" height="53.8" fill="#ffffff"/><path d="M421.30,746.8h1.4v53.8h-1.4zM425.15,746.8h1.4v53.8h-1.4zM429.00,746.8h1.4v53.8h-1.4zM432.85,746.8h1.4v53.8h-1.4zM419.1,798.00h17.1v1.4h-17.1zM419.1,794.30h17.1v1.4h-17.1zM419.1,790.60h17.1v1.4h-17.1zM419.1,786.90h17.1v1.4h-17.1zM419.1,783.20h17.1v1.4h-17.1zM419.1,779.50h17.1v1.4h-17.1zM419.1,775.80h17.1v1.4h-17.1zM419.1,772.10h17.1v1.4h-17.1zM419.1,768.40h17.1v1.4h-17.1zM419.1,764.70h17.1v1.4h-17.1zM419.1,761.00h17.1v1.4h-17.1zM419.1,757.30h17.1v1.4h-17.1zM419.1,753.60h17.1v1.4h-17.1zM419.1,749.90h17.1v1.4h-17.1z" fill="#4c4c4c"/>
<rect x="427.1" y="800.6" width="1.2" height="3.8" fill="#242424"/>
<text transform="translate(428.5,811.4) rotate(-45)" text-anchor="end" font-size="8.8" font-weight="bold" fill="#111">PHZi</text>
<rect x="452.6" y="735.8" width="1.6" height="4.9" fill="#4a4a4a"/>
<rect x="449.2" y="735.0" width="8.4" height="1.6" fill="#4a4a4a"/>
<rect x="444.8" y="740.2" width="17.1" height="60.4" fill="#848484"/><path d="M444.8,797.73h17.1v2.15h-17.1zM444.8,792.73h17.1v2.15h-17.1zM444.8,787.73h17.1v2.15h-17.1zM444.8,782.73h17.1v2.15h-17.1zM444.8,777.73h17.1v2.15h-17.1zM444.8,772.73h17.1v2.15h-17.1zM444.8,767.73h17.1v2.15h-17.1zM444.8,762.73h17.1v2.15h-17.1zM444.8,757.73h17.1v2.15h-17.1zM444.8,752.73h17.1v2.15h-17.1zM444.8,747.73h17.1v2.15h-17.1zM444.8,742.73h17.1v2.15h-17.1z" fill="#060606"/><rect x="444.8" y="740.2" width="17.1" height="60.4" fill="none" stroke="#2a2a2a" stroke-width="0.45"/>
<rect x="452.8" y="800.6" width="1.2" height="3.8" fill="#242424"/>
<text transform="translate(454.2,811.4) rotate(-45)" text-anchor="end" font-size="8.8" font-weight="bold" fill="#111">PH</text>
<rect x="478.6" y="733.6" width="1.6" height="5.1" fill="#e6e6e6"/>
<rect x="475.2" y="732.8" width="8.4" height="1.6" fill="#e6e6e6"/>
<rect x="470.9" y="738.2" width="17.1" height="62.4" fill="#ffffff"/><path d="M470.9,798.58h17.1v2.02h-17.1zM470.9,793.58h17.1v2.25h-17.1zM470.9,788.58h17.1v2.25h-17.1zM470.9,783.58h17.1v2.25h-17.1zM470.9,778.58h17.1v2.25h-17.1zM470.9,773.58h17.1v2.25h-17.1zM470.9,768.58h17.1v2.25h-17.1zM470.9,763.58h17.1v2.25h-17.1zM470.9,758.58h17.1v2.25h-17.1zM470.9,753.58h17.1v2.25h-17.1zM470.9,748.58h17.1v2.25h-17.1zM470.9,743.58h17.1v2.25h-17.1zM470.9,738.58h17.1v2.25h-17.1z" fill="#060606"/><rect x="470.9" y="737.8" width="17.1" height="0.9" fill="#cfcfcf"/>
<rect x="478.8" y="800.6" width="1.2" height="3.8" fill="#242424"/>
<text transform="translate(480.2,811.4) rotate(-45)" text-anchor="end" font-size="8.8" font-weight="bold" fill="#111">PHZi</text>
<rect x="309.78" y="678.5" width="1.25" height="122.7" fill="#242424"/>
<rect x="309.78" y="799.95" width="182.6" height="1.3" fill="#242424"/>
<rect x="306.1" y="678.5" width="4.3" height="1.2" fill="#242424"/>
<text x="304.7" y="682.1" text-anchor="end" font-size="8.5" font-weight="bold" fill="#111">150</text>
<rect x="306.1" y="718.8" width="4.3" height="1.2" fill="#242424"/>
<text x="304.7" y="722.4" text-anchor="end" font-size="8.5" font-weight="bold" fill="#111">100</text>
<rect x="306.1" y="759.4" width="4.3" height="1.2" fill="#242424"/>
<text x="304.7" y="763.0" text-anchor="end" font-size="8.5" font-weight="bold" fill="#111">50</text>
<rect x="306.1" y="800.0" width="4.3" height="1.2" fill="#242424"/>
<text x="304.7" y="803.6" text-anchor="end" font-size="8.5" font-weight="bold" fill="#111">0</text>
<text transform="translate(284.9,738.6) rotate(-90)" text-anchor="middle" font-size="10.15" font-weight="bold" fill="#111">LTC4-S protein levels (%)</text>
<text x="401.4" y="746.0" text-anchor="middle" font-size="9.6" font-weight="bold" class="st" fill="#1a1a1a">*</text>
<text x="427.7" y="741.8" text-anchor="middle" font-size="9.6" font-weight="bold" class="st" fill="#1a1a1a">*</text>
<text x="453.4" y="734.0" text-anchor="middle" font-size="9.6" font-weight="bold" class="st" fill="#1a1a1a">*</text>
<text x="479.4" y="732.5" text-anchor="middle" font-size="9.6" font-weight="bold" class="st" fill="#1a1a1a">*</text>
<path d="M337.4,821.3 C337.4,826.9 338.4,826.9 341.9,826.9 L357.3,826.9 C360.8,826.9 361.8,827.9 361.8,832.1 C361.8,827.9 362.8,826.9 366.3,826.9 L381.7,826.9 C385.2,826.9 386.2,826.9 386.2,821.3" fill="none" stroke="#828282" stroke-width="1.1"/>
<text x="363.5" y="842.0" text-anchor="middle" font-size="8.8" fill="#242424" stroke="#242424" stroke-width="0.34">1h post-PH</text>
<path d="M388.6,821.3 C388.6,826.9 389.6,826.9 393.1,826.9 L408.1,826.9 C411.6,826.9 412.6,827.9 412.6,832.1 C412.6,827.9 413.6,826.9 417.1,826.9 L432.1,826.9 C435.6,826.9 436.6,826.9 436.6,821.3" fill="none" stroke="#828282" stroke-width="1.1"/>
<text x="411.5" y="842.0" text-anchor="middle" font-size="8.8" fill="#242424" stroke="#242424" stroke-width="0.34">5h post-PH</text>
<path d="M438.8,821.3 C438.8,826.9 439.8,826.9 443.3,826.9 L458.6,826.9 C462.1,826.9 463.1,827.9 463.1,832.1 C463.1,827.9 464.1,826.9 467.6,826.9 L483.0,826.9 C486.5,826.9 487.5,826.9 487.5,821.3" fill="none" stroke="#828282" stroke-width="1.1"/>
<text x="462.3" y="842.0" text-anchor="middle" font-size="8.8" fill="#242424" stroke="#242424" stroke-width="0.34">24h post-PH</text>
<text x="-0.4" y="74" font-size="18.8" font-weight="bold" class="ns" fill="#000">a</text>
<text x="246.4" y="73.6" font-size="19" font-weight="bold" class="ns" fill="#000">b</text>
<text x="0.3" y="347.2" font-size="18.6" font-weight="bold" class="ns" fill="#000">c</text>
<text x="244.3" y="347.2" font-size="19.4" font-weight="bold" class="ns" fill="#000">d</text>
<text x="4.2" y="655.2" font-size="18.6" font-weight="bold" class="ns" fill="#000">e</text>
<text x="247.6" y="659" font-size="18.6" font-weight="bold" class="ns" fill="#000">f</text>
<text x="559.3" y="9.6" text-anchor="middle" font-size="12" font-weight="bold" class="ns" fill="#111">5-LOX</text>
<rect x="462" y="15.950000000000001" width="196" height="1.3" fill="#222"/>
<text x="496" y="34" text-anchor="middle" font-size="11" fill="#222" stroke="#222" stroke-width="0.2">Sh</text>
<text x="559" y="35" text-anchor="middle" font-size="11" fill="#222" stroke="#222" stroke-width="0.2">PH</text>
<text x="624.5" y="35" text-anchor="middle" font-size="11" fill="#222" stroke="#222" stroke-width="0.2">PHZi</text>
<rect x="466.5" y="41.75" width="61.200000000000045" height="1.5" fill="#1a1a1a"/>
<rect x="530.2" y="41.75" width="61.39999999999998" height="1.5" fill="#1a1a1a"/>
<rect x="595" y="41.75" width="58.39999999999998" height="1.5" fill="#1a1a1a"/>
<text x="447.8" y="59" text-anchor="middle" font-size="11.8" fill="#1c1c1c" stroke="#1c1c1c" stroke-width="0.22">1h</text>
<text x="447.8" y="83.8" text-anchor="middle" font-size="11.8" fill="#1c1c1c" stroke="#1c1c1c" stroke-width="0.22">5h</text>
<text x="447.8" y="114.8" text-anchor="middle" font-size="11.8" fill="#1c1c1c" stroke="#1c1c1c" stroke-width="0.22">24h</text>
<clipPath id="cp1"><rect x="468.0" y="47.0" width="57.6" height="18.4"/></clipPath>
<rect x="468.0" y="47.0" width="57.6" height="18.4" fill="#dadada"/>
<clipPath id="cp2"><rect x="528.4" y="47.0" width="58.5" height="18.4"/></clipPath>
<rect x="528.4" y="47.0" width="58.5" height="18.4" fill="#dadada"/>
<clipPath id="cp3"><rect x="590.3" y="47.0" width="62.9" height="18.4"/></clipPath>
<rect x="590.3" y="47.0" width="62.9" height="18.4" fill="#dadada"/>
<clipPath id="cp4"><rect x="468.0" y="69.2" width="57.6" height="23.8"/></clipPath>
<rect x="468.0" y="69.2" width="57.6" height="23.8" fill="#d0d0d0"/>
<clipPath id="cp5"><rect x="528.4" y="69.2" width="58.5" height="23.8"/></clipPath>
<rect x="528.4" y="69.2" width="58.5" height="23.8" fill="#d0d0d0"/>
<clipPath id="cp6"><rect x="590.3" y="69.2" width="62.9" height="23.8"/></clipPath>
<rect x="590.3" y="69.2" width="62.9" height="23.8" fill="#d0d0d0"/>
<clipPath id="cp7"><rect x="468.0" y="96.6" width="57.6" height="24.8"/></clipPath>
<rect x="468.0" y="96.6" width="57.6" height="24.8" fill="#9f9f9f"/>
<clipPath id="cp8"><rect x="528.4" y="96.6" width="58.5" height="24.8"/></clipPath>
<rect x="528.4" y="96.6" width="58.5" height="24.8" fill="#9f9f9f"/>
<clipPath id="cp9"><rect x="590.3" y="96.6" width="62.9" height="24.8"/></clipPath>
<rect x="590.3" y="96.6" width="62.9" height="24.8" fill="#9f9f9f"/>
<g clip-path="url(#cp1)">
<rect x="472.6" y="53.30" width="20.1" height="2.6" rx="1.3" fill="#3a3a3a" opacity="0.95" filter="url(#b0)"/>
<rect x="502.0" y="53.80" width="20.0" height="2.8" rx="1.4" fill="#404040" opacity="0.95" filter="url(#b0)"/>
<rect x="470.0" y="59.50" width="24.0" height="4" rx="2.0" fill="#aaa" opacity="0.45" filter="url(#b2)"/>
<rect x="500.0" y="59.50" width="24.0" height="4" rx="2.0" fill="#aaa" opacity="0.45" filter="url(#b2)"/>
</g>
<g clip-path="url(#cp2)">
<rect x="530.5" y="54.00" width="24.1" height="4.0" rx="2.0" fill="#080808" opacity="1" filter="url(#b0)"/>
<rect x="559.8" y="53.50" width="24.4" height="4.2" rx="2.1" fill="#060606" opacity="1" filter="url(#b0)"/>
<rect x="528.0" y="51.50" width="59.0" height="9" rx="4.5" fill="#999" opacity="0.45" filter="url(#b3)"/>
<rect x="538.0" y="61.50" width="18.0" height="3" rx="1.5" fill="#999" opacity="0.5" filter="url(#b2)"/>
</g>
<g clip-path="url(#cp3)">
<rect x="591.3" y="54.10" width="27.3" height="3.2" rx="1.6" fill="#101010" opacity="1" filter="url(#b0)" transform="rotate(-3 605.0 55.7)"/>
<rect x="624.9" y="52.00" width="26.4" height="4.2" rx="2.1" fill="#060606" opacity="1" filter="url(#b0)" transform="rotate(2 638.1 54.1)"/>
<rect x="590.0" y="51.50" width="63.0" height="9" rx="4.5" fill="#999" opacity="0.4" filter="url(#b3)"/>
<rect x="626.0" y="59.50" width="24.0" height="4" rx="2.0" fill="#9a9a9a" opacity="0.5" filter="url(#b2)"/>
</g>
<g clip-path="url(#cp4)">
<rect x="469.5" y="78.50" width="25.0" height="3.4" rx="1.7" fill="#4e4e4e" opacity="0.95" filter="url(#b1)"/>
<rect x="498.5" y="78.70" width="26.0" height="3.4" rx="1.7" fill="#4e4e4e" opacity="0.95" filter="url(#b1)"/>
<rect x="466.5" y="77.30" width="61.0" height="6" rx="3.0" fill="#999" opacity="0.5" filter="url(#b3)"/>
<rect x="472.5" y="70.95" width="19.0" height="2.5" rx="1.25" fill="#aaa" opacity="0.55" filter="url(#b2)"/>
<rect x="501.5" y="70.95" width="20.0" height="2.5" rx="1.25" fill="#aaa" opacity="0.55" filter="url(#b2)"/>
<rect x="473.5" y="85.00" width="15.0" height="6" rx="3.0" fill="#b8b8b8" opacity="0.5" filter="url(#b3)"/>
<rect x="502.5" y="85.00" width="16.0" height="6" rx="3.0" fill="#b8b8b8" opacity="0.5" filter="url(#b3)"/>
</g>
<g clip-path="url(#cp5)">
<rect x="530.0" y="78.50" width="25.5" height="3.4" rx="1.7" fill="#4e4e4e" opacity="0.95" filter="url(#b1)"/>
<rect x="559.0" y="78.70" width="26.5" height="3.4" rx="1.7" fill="#4e4e4e" opacity="0.95" filter="url(#b1)"/>
<rect x="527.0" y="77.30" width="61.5" height="6" rx="3.0" fill="#999" opacity="0.5" filter="url(#b3)"/>
<rect x="533.0" y="70.95" width="19.5" height="2.5" rx="1.25" fill="#aaa" opacity="0.55" filter="url(#b2)"/>
<rect x="562.0" y="70.95" width="20.5" height="2.5" rx="1.25" fill="#aaa" opacity="0.55" filter="url(#b2)"/>
<rect x="534.0" y="85.00" width="15.5" height="6" rx="3.0" fill="#b8b8b8" opacity="0.5" filter="url(#b3)"/>
<rect x="563.0" y="85.00" width="16.5" height="6" rx="3.0" fill="#b8b8b8" opacity="0.5" filter="url(#b3)"/>
</g>
<g clip-path="url(#cp6)">
<rect x="592.5" y="78.50" width="26.5" height="3.4" rx="1.7" fill="#4e4e4e" opacity="0.95" filter="url(#b1)"/>
<rect x="625.0" y="78.70" width="26.0" height="3.4" rx="1.7" fill="#4e4e4e" opacity="0.95" filter="url(#b1)"/>
<rect x="589.5" y="77.30" width="64.5" height="6" rx="3.0" fill="#999" opacity="0.5" filter="url(#b3)"/>
<rect x="595.5" y="70.95" width="20.5" height="2.5" rx="1.25" fill="#aaa" opacity="0.55" filter="url(#b2)"/>
<rect x="628.0" y="70.95" width="20.0" height="2.5" rx="1.25" fill="#aaa" opacity="0.55" filter="url(#b2)"/>
<rect x="596.5" y="85.00" width="16.5" height="6" rx="3.0" fill="#b8b8b8" opacity="0.5" filter="url(#b3)"/>
<rect x="629.0" y="85.00" width="16.0" height="6" rx="3.0" fill="#b8b8b8" opacity="0.5" filter="url(#b3)"/>
</g>
<g clip-path="url(#cp7)">
<rect x="469.0" y="107.10" width="27.0" height="6.4" rx="3.2" fill="#565656" opacity="0.92" filter="url(#b2)"/>
<rect x="499.0" y="107.10" width="26.0" height="6.4" rx="3.2" fill="#565656" opacity="0.92" filter="url(#b2)"/>
<rect x="466.0" y="104.30" width="62.0" height="12" rx="6.0" fill="#8a8a8a" opacity="0.45" filter="url(#b3)"/>
</g>
<g clip-path="url(#cp8)">
<rect x="530.0" y="107.10" width="26.0" height="6.4" rx="3.2" fill="#606060" opacity="0.92" filter="url(#b2)"/>
<rect x="559.0" y="107.10" width="27.0" height="6.4" rx="3.2" fill="#606060" opacity="0.92" filter="url(#b2)"/>
<rect x="527.0" y="104.30" width="62.0" height="12" rx="6.0" fill="#8a8a8a" opacity="0.45" filter="url(#b3)"/>
</g>
<g clip-path="url(#cp9)">
<rect x="592.0" y="107.10" width="28.0" height="6.4" rx="3.2" fill="#5c5c5c" opacity="0.92" filter="url(#b2)"/>
<rect x="624.0" y="107.10" width="28.0" height="6.4" rx="3.2" fill="#5c5c5c" opacity="0.92" filter="url(#b2)"/>
<rect x="589.0" y="104.30" width="66.0" height="12" rx="6.0" fill="#8a8a8a" opacity="0.45" filter="url(#b3)"/>
</g>
<rect x="468.0" y="47.0" width="57.6" height="18.4" filter="url(#noise)" opacity="0.16"/>
<rect x="468.0" y="47.0" width="57.6" height="18.4" filter="url(#noiseL)" opacity="0.18"/>
<rect x="528.4" y="47.0" width="58.5" height="18.4" filter="url(#noise)" opacity="0.16"/>
<rect x="528.4" y="47.0" width="58.5" height="18.4" filter="url(#noiseL)" opacity="0.18"/>
<rect x="590.3" y="47.0" width="62.9" height="18.4" filter="url(#noise)" opacity="0.16"/>
<rect x="590.3" y="47.0" width="62.9" height="18.4" filter="url(#noiseL)" opacity="0.18"/>
<rect x="468.0" y="69.2" width="57.6" height="23.8" filter="url(#noise)" opacity="0.16"/>
<rect x="468.0" y="69.2" width="57.6" height="23.8" filter="url(#noiseL)" opacity="0.18"/>
<rect x="528.4" y="69.2" width="58.5" height="23.8" filter="url(#noise)" opacity="0.16"/>
<rect x="528.4" y="69.2" width="58.5" height="23.8" filter="url(#noiseL)" opacity="0.18"/>
<rect x="590.3" y="69.2" width="62.9" height="23.8" filter="url(#noise)" opacity="0.16"/>
<rect x="590.3" y="69.2" width="62.9" height="23.8" filter="url(#noiseL)" opacity="0.18"/>
<rect x="468.0" y="96.6" width="57.6" height="24.8" filter="url(#noise)" opacity="0.16"/>
<rect x="468.0" y="96.6" width="57.6" height="24.8" filter="url(#noiseL)" opacity="0.18"/>
<rect x="528.4" y="96.6" width="58.5" height="24.8" filter="url(#noise)" opacity="0.16"/>
<rect x="528.4" y="96.6" width="58.5" height="24.8" filter="url(#noiseL)" opacity="0.18"/>
<rect x="590.3" y="96.6" width="62.9" height="24.8" filter="url(#noise)" opacity="0.16"/>
<rect x="590.3" y="96.6" width="62.9" height="24.8" filter="url(#noiseL)" opacity="0.18"/>

<text x="549.7" y="285.4" text-anchor="middle" font-size="12" font-weight="bold" class="ns" fill="#111">LTA4-H</text>
<rect x="464.7" y="291.55" width="191.3" height="1.3" fill="#222"/>
<text x="495.8" y="308" text-anchor="middle" font-size="11" fill="#222" stroke="#222" stroke-width="0.2">Sh</text>
<text x="558.8" y="309" text-anchor="middle" font-size="11" fill="#222" stroke="#222" stroke-width="0.2">PH</text>
<text x="617.2" y="309" text-anchor="middle" font-size="11" fill="#222" stroke="#222" stroke-width="0.2">PHZi</text>
<rect x="464.7" y="315.75" width="61.50000000000006" height="1.5" fill="#1a1a1a"/>
<rect x="530.2" y="315.75" width="61.5" height="1.5" fill="#1a1a1a"/>
<rect x="595.9" y="315.75" width="58.0" height="1.5" fill="#1a1a1a"/>
<text x="450.3" y="339.9" text-anchor="middle" font-size="11.8" fill="#1c1c1c" stroke="#1c1c1c" stroke-width="0.22">1h</text>
<text x="450.3" y="363.9" text-anchor="middle" font-size="11.8" fill="#1c1c1c" stroke="#1c1c1c" stroke-width="0.22">5h</text>
<text x="450.3" y="390.4" text-anchor="middle" font-size="11.8" fill="#1c1c1c" stroke="#1c1c1c" stroke-width="0.22">24h</text>
<clipPath id="cp10"><rect x="469.8" y="323.4" width="57.2" height="22.7"/></clipPath>
<rect x="469.8" y="323.4" width="57.2" height="22.7" fill="#d0d0d0"/>
<clipPath id="cp11"><rect x="530.6" y="323.4" width="60.1" height="22.7"/></clipPath>
<rect x="530.6" y="323.4" width="60.1" height="22.7" fill="#d0d0d0"/>
<clipPath id="cp12"><rect x="593.8" y="323.4" width="60.8" height="22.7"/></clipPath>
<rect x="593.8" y="323.4" width="60.8" height="22.7" fill="#d0d0d0"/>
<clipPath id="cp13"><rect x="469.8" y="349.3" width="57.2" height="19.3"/></clipPath>
<rect x="469.8" y="349.3" width="57.2" height="19.3" fill="#bdbdbd"/>
<clipPath id="cp14"><rect x="530.6" y="349.3" width="60.1" height="19.3"/></clipPath>
<rect x="530.6" y="349.3" width="60.1" height="19.3" fill="#bdbdbd"/>
<clipPath id="cp15"><rect x="593.8" y="349.3" width="60.8" height="19.3"/></clipPath>
<rect x="593.8" y="349.3" width="60.8" height="19.3" fill="#bdbdbd"/>
<clipPath id="cp16"><rect x="469.8" y="370.2" width="57.2" height="23.7"/></clipPath>
<rect x="469.8" y="370.2" width="57.2" height="23.7" fill="#d3d3d3"/>
<clipPath id="cp17"><rect x="530.6" y="370.2" width="60.1" height="23.7"/></clipPath>
<rect x="530.6" y="370.2" width="60.1" height="23.7" fill="#d3d3d3"/>
<clipPath id="cp18"><rect x="593.8" y="370.2" width="60.8" height="23.7"/></clipPath>
<rect x="593.8" y="370.2" width="60.8" height="23.7" fill="#d3d3d3"/>
<g clip-path="url(#cp10)">
<rect x="472.9" y="334.10" width="21.3" height="3.2" rx="1.6" fill="#4a4a4a" opacity="0.95" filter="url(#b1)"/>
<rect x="503.9" y="334.00" width="20.9" height="2.8" rx="1.4" fill="#5c5c5c" opacity="0.9" filter="url(#b1)"/>
<rect x="469.8" y="330.50" width="57.2" height="9" rx="4.5" fill="#999" opacity="0.5" filter="url(#b3)"/>
</g>
<g clip-path="url(#cp11)">
<rect x="534.3" y="332.90" width="20.5" height="3.8" rx="1.9" fill="#444" opacity="0.95" filter="url(#b1)"/>
<rect x="564.0" y="332.50" width="23.1" height="4.2" rx="2.1" fill="#3c3c3c" opacity="0.95" filter="url(#b1)"/>
<rect x="530.6" y="330.50" width="60.1" height="9" rx="4.5" fill="#999" opacity="0.5" filter="url(#b3)"/>
</g>
<g clip-path="url(#cp12)">
<rect x="597.2" y="332.90" width="21.6" height="3.8" rx="1.9" fill="#484848" opacity="0.95" filter="url(#b1)"/>
<rect x="629.1" y="332.40" width="22.2" height="3.8" rx="1.9" fill="#404040" opacity="0.95" filter="url(#b1)"/>
<rect x="593.8" y="330.50" width="60.8" height="9" rx="4.5" fill="#999" opacity="0.5" filter="url(#b3)"/>
</g>
<g clip-path="url(#cp13)">
<rect x="471.0" y="359.30" width="25.0" height="4.2" rx="2.1" fill="#555" opacity="0.85" filter="url(#b2)"/>
<rect x="500.0" y="358.50" width="26.0" height="5.0" rx="2.5" fill="#505050" opacity="0.85" filter="url(#b2)"/>
<rect x="471.0" y="352.50" width="25.0" height="4" rx="2.0" fill="#8a8a8a" opacity="0.6" filter="url(#b3)"/>
<rect x="500.0" y="352.00" width="26.0" height="5" rx="2.5" fill="#777" opacity="0.6" filter="url(#b3)"/>
</g>
<g clip-path="url(#cp14)">
<rect x="532.0" y="359.30" width="27.0" height="5.0" rx="2.5" fill="#444" opacity="0.9" filter="url(#b2)"/>
<rect x="563.0" y="359.90" width="26.0" height="3.8" rx="1.9" fill="#6a6a6a" opacity="0.8" filter="url(#b2)"/>
<rect x="532.0" y="352.00" width="27.0" height="5" rx="2.5" fill="#777" opacity="0.6" filter="url(#b3)"/>
<rect x="563.0" y="353.00" width="26.0" height="4" rx="2.0" fill="#999" opacity="0.5" filter="url(#b3)"/>
</g>
<g clip-path="url(#cp15)">
<rect x="595.0" y="357.30" width="26.0" height="3.4" rx="1.7" fill="#444" opacity="0.9" filter="url(#b2)"/>
<rect x="626.0" y="357.70" width="27.0" height="3.4" rx="1.7" fill="#5c5c5c" opacity="0.85" filter="url(#b2)"/>
<rect x="595.0" y="362.70" width="26.0" height="3.4" rx="1.7" fill="#505050" opacity="0.85" filter="url(#b2)"/>
<rect x="626.0" y="362.90" width="27.0" height="3.4" rx="1.7" fill="#626262" opacity="0.8" filter="url(#b2)"/>
<rect x="595.0" y="351.50" width="58.0" height="4" rx="2.0" fill="#909090" opacity="0.5" filter="url(#b3)"/>
</g>
<g clip-path="url(#cp16)">
<rect x="472.9" y="381.90" width="22.0" height="5.0" rx="2.5" fill="#3c3c3c" opacity="0.95" filter="url(#b1)"/>
<rect x="501.1" y="382.80" width="21.2" height="3.2" rx="1.6" fill="#4c4c4c" opacity="0.95" filter="url(#b1)"/>
<rect x="469.8" y="380.00" width="57.2" height="9" rx="4.5" fill="#a0a0a0" opacity="0.5" filter="url(#b3)"/>
</g>
<g clip-path="url(#cp17)">
<rect x="537.8" y="383.00" width="18.1" height="3.2" rx="1.6" fill="#787878" opacity="0.9" filter="url(#b1)"/>
<rect x="565.7" y="382.20" width="19.5" height="3.8" rx="1.9" fill="#585858" opacity="0.95" filter="url(#b1)"/>
<rect x="530.6" y="380.00" width="60.1" height="9" rx="4.5" fill="#a0a0a0" opacity="0.5" filter="url(#b3)"/>
</g>
<g clip-path="url(#cp18)">
<rect x="598.6" y="384.60" width="18.1" height="2.8" rx="1.4" fill="#6a6a6a" opacity="0.9" filter="url(#b1)" transform="rotate(-3 607.7 386.0)"/>
<rect x="630.1" y="381.30" width="20.1" height="4.0" rx="2.0" fill="#464646" opacity="0.95" filter="url(#b1)"/>
<rect x="593.8" y="380.00" width="60.8" height="9" rx="4.5" fill="#a0a0a0" opacity="0.5" filter="url(#b3)"/>
</g>
<rect x="469.8" y="323.4" width="57.2" height="22.7" filter="url(#noise)" opacity="0.16"/>
<rect x="469.8" y="323.4" width="57.2" height="22.7" filter="url(#noiseL)" opacity="0.18"/>
<rect x="530.6" y="323.4" width="60.1" height="22.7" filter="url(#noise)" opacity="0.16"/>
<rect x="530.6" y="323.4" width="60.1" height="22.7" filter="url(#noiseL)" opacity="0.18"/>
<rect x="593.8" y="323.4" width="60.8" height="22.7" filter="url(#noise)" opacity="0.16"/>
<rect x="593.8" y="323.4" width="60.8" height="22.7" filter="url(#noiseL)" opacity="0.18"/>
<rect x="469.8" y="349.3" width="57.2" height="19.3" filter="url(#noise)" opacity="0.16"/>
<rect x="469.8" y="349.3" width="57.2" height="19.3" filter="url(#noiseL)" opacity="0.18"/>
<rect x="530.6" y="349.3" width="60.1" height="19.3" filter="url(#noise)" opacity="0.16"/>
<rect x="530.6" y="349.3" width="60.1" height="19.3" filter="url(#noiseL)" opacity="0.18"/>
<rect x="593.8" y="349.3" width="60.8" height="19.3" filter="url(#noise)" opacity="0.16"/>
<rect x="593.8" y="349.3" width="60.8" height="19.3" filter="url(#noiseL)" opacity="0.18"/>
<rect x="469.8" y="370.2" width="57.2" height="23.7" filter="url(#noise)" opacity="0.16"/>
<rect x="469.8" y="370.2" width="57.2" height="23.7" filter="url(#noiseL)" opacity="0.18"/>
<rect x="530.6" y="370.2" width="60.1" height="23.7" filter="url(#noise)" opacity="0.16"/>
<rect x="530.6" y="370.2" width="60.1" height="23.7" filter="url(#noiseL)" opacity="0.18"/>
<rect x="593.8" y="370.2" width="60.8" height="23.7" filter="url(#noise)" opacity="0.16"/>
<rect x="593.8" y="370.2" width="60.8" height="23.7" filter="url(#noiseL)" opacity="0.18"/>

<text x="553.4" y="567.2" text-anchor="middle" font-size="11.5" font-weight="bold" class="ns" fill="#111">LTC4-S</text>
<rect x="453.3" y="573.95" width="192.3" height="1.3" fill="#222"/>
<text x="484.8" y="591" text-anchor="middle" font-size="11" fill="#222" stroke="#222" stroke-width="0.2">Sh</text>
<text x="550.9" y="591" text-anchor="middle" font-size="11" fill="#222" stroke="#222" stroke-width="0.2">PH</text>
<text x="615.3" y="591" text-anchor="middle" font-size="11" fill="#222" stroke="#222" stroke-width="0.2">PHZi</text>
<rect x="457.8" y="599.15" width="57.49999999999994" height="1.5" fill="#1a1a1a"/>
<rect x="523.3" y="599.15" width="61.30000000000007" height="1.5" fill="#1a1a1a"/>
<rect x="590" y="599.15" width="58" height="1.5" fill="#1a1a1a"/>
<text x="441.2" y="620.8" text-anchor="middle" font-size="11.8" fill="#1c1c1c" stroke="#1c1c1c" stroke-width="0.22">1h</text>
<text x="441.2" y="651.8" text-anchor="middle" font-size="11.8" fill="#1c1c1c" stroke="#1c1c1c" stroke-width="0.22">5h</text>
<text x="441.2" y="676.2" text-anchor="middle" font-size="11.8" fill="#1c1c1c" stroke="#1c1c1c" stroke-width="0.22">24h</text>
<clipPath id="cp19"><rect x="459.3" y="604.8" width="61.4" height="26.7"/></clipPath>
<rect x="459.3" y="604.8" width="61.4" height="26.7" fill="#b0b0b0"/>
<clipPath id="cp20"><rect x="524.2" y="604.8" width="62.9" height="26.7"/></clipPath>
<rect x="524.2" y="604.8" width="62.9" height="26.7" fill="#b0b0b0"/>
<clipPath id="cp21"><rect x="590.6" y="604.8" width="58.7" height="26.7"/></clipPath>
<rect x="590.6" y="604.8" width="58.7" height="26.7" fill="#b0b0b0"/>
<clipPath id="cp22"><rect x="459.3" y="634.5" width="61.4" height="22.1"/></clipPath>
<rect x="459.3" y="634.5" width="61.4" height="22.1" fill="#c6c6c6"/>
<clipPath id="cp23"><rect x="524.2" y="634.5" width="62.9" height="22.1"/></clipPath>
<rect x="524.2" y="634.5" width="62.9" height="22.1" fill="#c6c6c6"/>
<clipPath id="cp24"><rect x="590.6" y="634.5" width="58.7" height="22.1"/></clipPath>
<rect x="590.6" y="634.5" width="58.7" height="22.1" fill="#c6c6c6"/>
<clipPath id="cp25"><rect x="459.3" y="659.8" width="61.4" height="24.2"/></clipPath>
<rect x="459.3" y="659.8" width="61.4" height="24.2" fill="#c2c2c2"/>
<clipPath id="cp26"><rect x="524.2" y="659.8" width="62.9" height="24.2"/></clipPath>
<rect x="524.2" y="659.8" width="62.9" height="24.2" fill="#c2c2c2"/>
<clipPath id="cp27"><rect x="590.6" y="659.8" width="58.7" height="24.2"/></clipPath>
<rect x="590.6" y="659.8" width="58.7" height="24.2" fill="#c2c2c2"/>
<g clip-path="url(#cp19)">
<rect x="462.4" y="614.70" width="25.6" height="4.2" rx="2.1" fill="#787878" opacity="0.85" filter="url(#b2)"/>
<rect x="491.6" y="615.10" width="24.9" height="4.2" rx="2.1" fill="#7c7c7c" opacity="0.85" filter="url(#b2)"/>
<rect x="458.4" y="607.00" width="62.1" height="4" rx="2.0" fill="#c6c6c6" opacity="0.6" filter="url(#b3)"/>
<rect x="468.4" y="627.60" width="44.1" height="1.2" rx="0.6" fill="#d0d0d0" opacity="0.6" filter="url(#b1)"/>
</g>
<g clip-path="url(#cp20)">
<rect x="527.0" y="614.70" width="26.0" height="4.2" rx="2.1" fill="#787878" opacity="0.85" filter="url(#b2)"/>
<rect x="558.0" y="615.10" width="26.0" height="4.2" rx="2.1" fill="#7c7c7c" opacity="0.85" filter="url(#b2)"/>
<rect x="523.0" y="607.00" width="65.0" height="4" rx="2.0" fill="#c6c6c6" opacity="0.6" filter="url(#b3)"/>
<rect x="533.0" y="627.60" width="47.0" height="1.2" rx="0.6" fill="#d0d0d0" opacity="0.6" filter="url(#b1)"/>
</g>
<g clip-path="url(#cp21)">
<rect x="593.0" y="614.70" width="25.0" height="4.2" rx="2.1" fill="#787878" opacity="0.85" filter="url(#b2)"/>
<rect x="622.0" y="615.10" width="25.0" height="4.2" rx="2.1" fill="#7c7c7c" opacity="0.85" filter="url(#b2)"/>
<rect x="589.0" y="607.00" width="62.0" height="4" rx="2.0" fill="#c6c6c6" opacity="0.6" filter="url(#b3)"/>
<rect x="599.0" y="627.60" width="44.0" height="1.2" rx="0.6" fill="#d0d0d0" opacity="0.6" filter="url(#b1)"/>
</g>
<g clip-path="url(#cp22)">
<rect x="462.4" y="643.20" width="25.6" height="3.2" rx="1.6" fill="#1c1c1c" opacity="1" filter="url(#b1)"/>
<rect x="492.5" y="643.15" width="23.0" height="2.9" rx="1.45" fill="#222" opacity="1" filter="url(#b1)"/>
</g>
<g clip-path="url(#cp23)">
<rect x="525.9" y="642.95" width="21.9" height="1.9" rx="0.95" fill="#4a4a4a" opacity="0.95" filter="url(#b1)" transform="rotate(-2 536.8 643.9)"/>
<rect x="557.4" y="643.85" width="24.1" height="2.3" rx="1.15" fill="#3c3c3c" opacity="0.95" filter="url(#b1)" transform="rotate(3 569.5 645.0)"/>
</g>
<g clip-path="url(#cp24)">
<rect x="592.8" y="644.60" width="21.2" height="3.4" rx="1.7" fill="#1c1c1c" opacity="1" filter="url(#b1)"/>
<rect x="619.3" y="644.95" width="19.7" height="2.9" rx="1.45" fill="#262626" opacity="1" filter="url(#b1)"/>
</g>
<g clip-path="url(#cp25)">
<rect x="464.2" y="669.90" width="23.0" height="3.8" rx="1.9" fill="#161616" opacity="1" filter="url(#b1)"/>
<rect x="495.2" y="668.90" width="21.2" height="3.8" rx="1.9" fill="#1a1a1a" opacity="1" filter="url(#b1)"/>
<rect x="464.0" y="677.75" width="18.0" height="1.5" rx="0.75" fill="#aaa" opacity="0.6" filter="url(#b1)" transform="rotate(-8 473.0 678.5)"/>
</g>
<g clip-path="url(#cp26)">
<rect x="527.6" y="670.80" width="23.4" height="3.2" rx="1.6" fill="#262626" opacity="1" filter="url(#b1)"/>
<rect x="559.6" y="669.90" width="23.0" height="4.2" rx="2.1" fill="#161616" opacity="1" filter="url(#b1)"/>
</g>
<g clip-path="url(#cp27)">
<rect x="592.2" y="671.95" width="21.8" height="2.5" rx="1.25" fill="#444" opacity="0.95" filter="url(#b1)"/>
<rect x="625.8" y="672.15" width="20.8" height="2.3" rx="1.15" fill="#555" opacity="0.95" filter="url(#b1)"/>
</g>
<rect x="459.3" y="604.8" width="61.4" height="26.7" filter="url(#noise)" opacity="0.16"/>
<rect x="459.3" y="604.8" width="61.4" height="26.7" filter="url(#noiseL)" opacity="0.18"/>
<rect x="524.2" y="604.8" width="62.9" height="26.7" filter="url(#noise)" opacity="0.16"/>
<rect x="524.2" y="604.8" width="62.9" height="26.7" filter="url(#noiseL)" opacity="0.18"/>
<rect x="590.6" y="604.8" width="58.7" height="26.7" filter="url(#noise)" opacity="0.16"/>
<rect x="590.6" y="604.8" width="58.7" height="26.7" filter="url(#noiseL)" opacity="0.18"/>
<rect x="459.3" y="634.5" width="61.4" height="22.1" filter="url(#noise)" opacity="0.16"/>
<rect x="459.3" y="634.5" width="61.4" height="22.1" filter="url(#noiseL)" opacity="0.18"/>
<rect x="524.2" y="634.5" width="62.9" height="22.1" filter="url(#noise)" opacity="0.16"/>
<rect x="524.2" y="634.5" width="62.9" height="22.1" filter="url(#noiseL)" opacity="0.18"/>
<rect x="590.6" y="634.5" width="58.7" height="22.1" filter="url(#noise)" opacity="0.16"/>
<rect x="590.6" y="634.5" width="58.7" height="22.1" filter="url(#noiseL)" opacity="0.18"/>
<rect x="459.3" y="659.8" width="61.4" height="24.2" filter="url(#noise)" opacity="0.16"/>
<rect x="459.3" y="659.8" width="61.4" height="24.2" filter="url(#noiseL)" opacity="0.18"/>
<rect x="524.2" y="659.8" width="62.9" height="24.2" filter="url(#noise)" opacity="0.16"/>
<rect x="524.2" y="659.8" width="62.9" height="24.2" filter="url(#noiseL)" opacity="0.18"/>
<rect x="590.6" y="659.8" width="58.7" height="24.2" filter="url(#noise)" opacity="0.16"/>
<rect x="590.6" y="659.8" width="58.7" height="24.2" filter="url(#noiseL)" opacity="0.18"/>

</g>
</svg>
</body></html>
